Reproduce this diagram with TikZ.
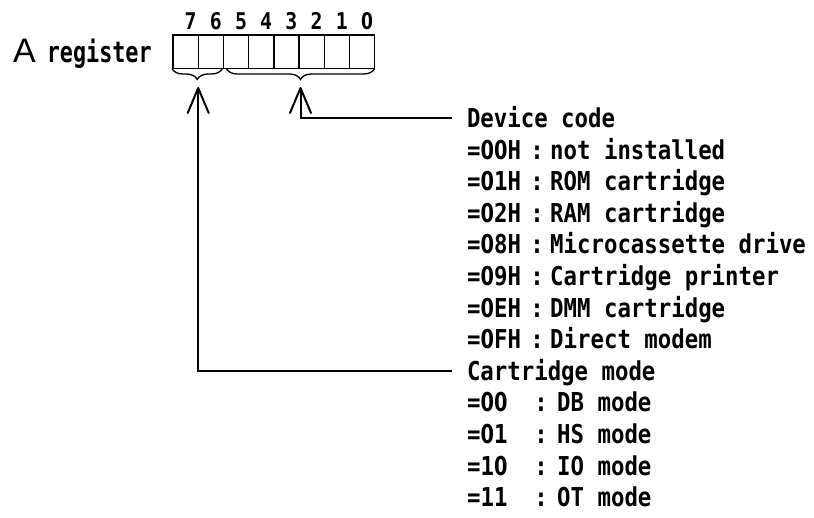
\documentclass[tikz,border=0pt]{standalone}
\usepackage{fontspec}
\usetikzlibrary{arrows.meta,decorations.pathreplacing}
\newfontfamily\listfont{DejaVu Sans Mono}[FakeStretch=0.86]
\newfontfamily\regfont{DejaVu Sans Mono}[FakeStretch=0.75]
\newfontfamily\zerofont{DejaVu Sans}[FakeStretch=0.745]
\newfontfamily\afont{Liberation Sans}
\newcommand{\Z}{{\zerofont\bfseries 0}}
\tikzset{
  txt/.style={font=\listfont\bfseries\fontsize{26}{30}\selectfont, inner sep=0pt,
              text height=19pt, text depth=0pt, anchor=west},
  heading/.style={txt, outer xsep=15pt},
  colon/.style={txt, anchor=center},
  bit/.style={font=\listfont\bfseries\fontsize{23}{26}\selectfont, inner sep=0pt, anchor=base},
  cell/.style={draw, line width=1.4pt, minimum width=25.2pt, minimum height=33.5pt,
               inner sep=0pt, outer sep=0pt},
  brc/.style={decorate, decoration={brace, mirror, amplitude=11pt}, line width=1.3pt},
  conn/.style={line width=2pt, -{Straight Barb[length=25pt, width=21pt, round]}},
}
\begin{document}
\begin{tikzpicture}[x=1pt, y=-1pt]
\useasboundingbox (0,0) rectangle (814,517);
\fill[white] (0,0) rectangle (814,517);

% register label
\node[inner sep=0pt, anchor=base west,
      font=\regfont\bfseries\fontsize{29}{32}\selectfont] (lbl) at (13,62)
  {{\afont\mdseries\fontsize{34}{36}\selectfont A}\hspace{11pt}register};

% register cells and bit numbers
\foreach \b in {7,6,5,4,3,2,1} {
  \node[cell] (cell\b) at ({185.6+(7-\b)*25.2}, 51.75) {};
  \node[bit] (d\b) at ({190.6+(7-\b)*25.2}, 29) {\b};
}
\node[cell] (cell0) at ({185.6+7*25.2}, 51.75) {};
\node[bit] (d0) at ({190.6+7*25.2}, 29) {\Z};

% braces
\draw[brc] ([xshift=-1pt]cell7.south west) -- ([xshift=-1pt]cell6.south east);
\draw[brc] ([xshift=3pt]cell5.south west) -- (cell0.south east);
\coordinate (tipA) at (198.2,87);
\coordinate (tipB) at (300.5,87);

% device code
\node[heading] (dev) at (452,118) {Device code};
\node[txt] (c1) at (467,149.6) {=\Z{}\Z{}H};
\node[colon] (k1) at (537,149.6) {:};
\node[txt] (t1) at (550,149.6) {not installed};
\node[txt] (c2) at (467,181.2) {=\Z{}1H};
\node[colon] (k2) at (537,181.2) {:};
\node[txt] (t2) at (550,181.2) {ROM cartridge};
\node[txt] (c3) at (467,212.8) {=\Z{}2H};
\node[colon] (k3) at (537,212.8) {:};
\node[txt] (t3) at (550,212.8) {RAM cartridge};
\node[txt] (c4) at (467,244.4) {=\Z{}8H};
\node[colon] (k4) at (537,244.4) {:};
\node[txt] (t4) at (550,244.4) {Microcassette drive};
\node[txt] (c5) at (467,276) {=\Z{}9H};
\node[colon] (k5) at (537,276) {:};
\node[txt] (t5) at (550,276) {Cartridge printer};
\node[txt] (c6) at (467,307.6) {=\Z{}EH};
\node[colon] (k6) at (537,307.6) {:};
\node[txt] (t6) at (550,307.6) {DMM cartridge};
\node[txt] (c7) at (467,339.2) {=\Z{}FH};
\node[colon] (k7) at (537,339.2) {:};
\node[txt] (t7) at (550,339.2) {Direct modem};

% cartridge mode
\node[heading] (cart) at (452,370.8) {Cartridge mode};
\node[txt] (m1) at (467,402.4) {=\Z{}\Z};
\node[colon] (q1) at (541,402.4) {:};
\node[txt] (n1) at (557,402.4) {DB mode};
\node[txt] (m2) at (467,434) {=\Z{}1};
\node[colon] (q2) at (541,434) {:};
\node[txt] (n2) at (557,434) {HS mode};
\node[txt] (m3) at (467,465.6) {=1\Z};
\node[colon] (q3) at (541,465.6) {:};
\node[txt] (n3) at (557,465.6) {IO mode};
\node[txt] (m4) at (467,497.2) {=11};
\node[colon] (q4) at (541,497.2) {:};
\node[txt] (n4) at (557,497.2) {OT mode};

% connectors
\draw[conn] (dev.west) -| (tipB);
\draw[conn] (cart.west) -| (tipA);
\end{tikzpicture}
\end{document}
